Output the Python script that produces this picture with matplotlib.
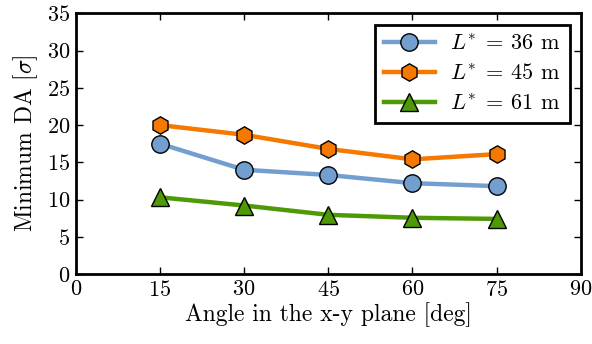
import matplotlib
matplotlib.use('Agg')
import matplotlib.pyplot as plt

plt.rcParams['font.family'] = 'serif'
plt.rcParams['font.serif'] = ['cmr10']
plt.rcParams['mathtext.fontset'] = 'cm'
plt.rcParams['axes.unicode_minus'] = False
plt.rcParams['axes.formatter.use_mathtext'] = True

# Minimum dynamic aperture vs. angle for three L* values.
angle = [15, 30, 45, 60, 75]
da_36 = [17.5, 14.0, 13.3, 12.2, 11.8]
da_45 = [20.0, 18.7, 16.8, 15.4, 16.1]
da_61 = [10.3, 9.2, 7.95, 7.55, 7.4]

labels = [r'$L^{*}\:=\:36$ m', r'$L^{*}\:=\:45$ m', r'$L^{*}\:=\:61$ m']
colors = ['#729fcf', '#f57900', '#4e9a06']
markers = ['o', 'h', '^']

fig = plt.figure(figsize=(5.92, 3.44), dpi=100)
ax = fig.add_axes([0.128, 0.2035, 0.853, 0.7575])

for y, lab, c, m in zip([da_36, da_45, da_61], labels, colors, markers):
    ax.plot(angle, y, color=c, lw=3.2, marker=m, ms=12.5 if m != '^' else 13,
            markerfacecolor=c, markeredgecolor='black', markeredgewidth=1,
            label=lab)

ax.set_xlim(0, 90)
ax.set_ylim(0, 35)
ax.set_xticks(range(0, 91, 15))
ax.set_yticks(range(0, 36, 5))
ax.tick_params(direction='in', top=True, right=True, length=5, width=1,
               labelsize=16, pad=4)
for s in ax.spines.values():
    s.set_linewidth(2)

ax.set_xlabel('Angle in the x-y plane [deg]', fontsize=17, labelpad=2)
ax.set_ylabel(r'Minimum DA [$\sigma$]', fontsize=17, labelpad=5)

leg = ax.legend(loc='upper right', fontsize=16, handlelength=2.3,
                fancybox=False, framealpha=1, edgecolor='black',
                borderaxespad=0.5, labelspacing=0.45, borderpad=0.4,
                handletextpad=0.7)
leg.get_frame().set_linewidth(2)

fig.savefig('out.png', dpi=100)
